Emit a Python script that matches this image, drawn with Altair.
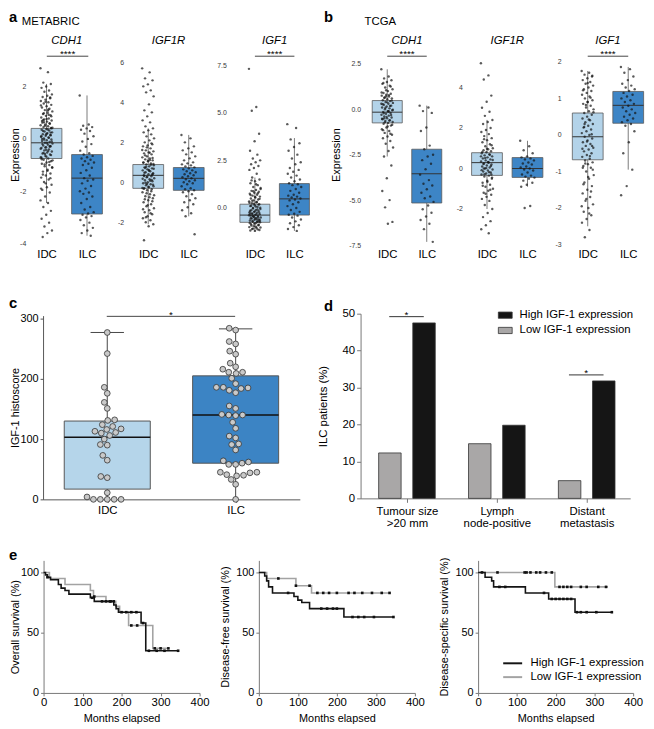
import altair as alt
import pandas as pd

FONT = "Liberation Sans"
W, H = 646, 721
GROUPS = ["IDC", "ILC"]
LIGHT, DARK = "#b3d3e9", "#3d85c6"
HI, LO = "High IGF-1 expression", "Low IGF-1 expression"

# ---------------- a: METABRIC expression ----------------
met_cdh1_idc = [2.7, 2.55, 2.15, 2.1, 2.0, 1.95, 1.85, 1.8, 1.7, 1.65, 1.6, 1.55, 1.5, 1.45, 1.4, 1.35, 1.3,
                1.25, 1.2, 1.15, 1.1, 1.05, 1.0, 0.95, 0.9, 0.88, 0.82, 0.78, 0.74, 0.7, 0.66, 0.62, 0.58,
                0.55, 0.52, 0.48, 0.45, 0.42, 0.38, 0.35, 0.32, 0.28, 0.25, 0.22, 0.18, 0.15, 0.12, 0.08,
                0.05, 0.02, -0.02, -0.05, -0.08, -0.12, -0.15, -0.18, -0.22, -0.25, -0.28, -0.32, -0.35,
                -0.4, -0.44, -0.48, -0.52, -0.56, -0.6, -0.65, -0.7, -0.75, -0.8, -0.85, -0.9, -0.95, -1.0,
                -1.05, -1.1, -1.18, -1.25, -1.32, -1.4, -1.48, -1.55, -1.65, -1.75, -1.85, -1.95, -2.05,
                -2.2, -2.35, -2.45, -2.6, -2.75, -2.9, -3.05, -3.2, -3.35, -3.5, -3.6, -3.75,
                1.58, 1.42, 1.28, 1.12, 0.98, 0.86, 0.76, 0.68, 0.6, 0.5, 0.43, 0.36, 0.3, 0.24, 0.17,
                0.1, 0.04, -0.03, -0.1, -0.16, -0.2, -0.27, -0.33, -0.38, -0.46, -0.54, -0.62, -0.68,
                -0.78, -0.88, -0.98, -1.08, -1.22, -1.36, -1.5, -1.7, -1.9, 0.92, 0.64, 0.4, 0.2, 0.0,
                -0.3, -0.58, -0.82, 1.08, 0.72, 0.14, -0.42, -0.72]
met_cdh1_ilc = [1.66, 0.55, 0.5, 0.45, 0.4, 0.35, 0.3, 0.2, 0.1, 0.0, -0.1, -0.2, -0.3, -0.45, -0.55, -0.6,
                -0.65, -0.7, -0.75, -0.8, -0.85, -0.9, -0.95, -1.0, -1.1, -1.2, -1.3, -1.4, -1.5, -1.55,
                -1.6, -1.7, -1.8, -1.9, -2.0, -2.05, -2.1, -2.2, -2.3, -2.45, -2.6, -2.7, -2.8, -2.85,
                -2.9, -2.95, -3.0, -3.1, -3.2, -3.3, -3.4, -3.5, -3.6, -3.7]
met_igf1r_idc = [5.7, 5.5, 5.2, 5.1, 4.9, 4.8, 4.6, 4.5, 4.3, 3.9, 3.6, 3.5, 3.3, 3.1, 3.0, 2.8, 2.7, 2.6,
                 2.5, 2.4, 2.3, 2.2, 2.1, 2.0, 1.9, 1.85, 1.8, 1.7, 1.6, 1.55, 1.5, 1.45, 1.4, 1.3, 1.25,
                 1.2, 1.15, 1.1, 1.05, 1.0, 0.95, 0.9, 0.85, 0.8, 0.75, 0.7, 0.65, 0.6, 0.55, 0.5, 0.45,
                 0.4, 0.35, 0.3, 0.25, 0.2, 0.15, 0.1, 0.05, 0.0, -0.05, -0.1, -0.15, -0.2, -0.25, -0.3,
                 -0.35, -0.4, -0.5, -0.6, -0.7, -0.8, -0.9, -1.0, -1.1, -1.2, -1.3, -1.4, -1.5, -1.6,
                 -1.7, -1.8, -1.9, -2.0, -2.1, -2.2, -2.9,
                 1.95, 1.75, 1.62, 1.48, 1.35, 1.22, 1.08, 0.98, 0.88, 0.78, 0.68, 0.58, 0.48, 0.38,
                 0.28, 0.18, 0.08, -0.02, -0.12, -0.22, -0.32, -0.45, -0.55, -0.65, -0.75, -0.85, -0.95,
                 -1.15, -1.35, -1.55, -1.75, 0.92, 0.62, 0.32, 0.12, -0.08, -0.28, 1.12, 0.72, 0.42]
met_igf1r_ilc = [2.37, 2.2, 2.0, 1.8, 1.7, 1.6, 1.5, 1.4, 1.3, 1.2, 1.1, 1.0, 0.95, 0.9, 0.85, 0.8, 0.75,
                 0.7, 0.65, 0.6, 0.55, 0.5, 0.45, 0.4, 0.35, 0.3, 0.25, 0.2, 0.15, 0.1, 0.05, 0.0, -0.05,
                 -0.1, -0.2, -0.3, -0.35, -0.4, -0.45, -0.5, -0.6, -0.7, -0.8, -0.9, -1.0, -1.1, -1.25,
                 -1.4, -1.55, -1.7, -2.6]
met_igf1_idc = [7.3, 5.3, 5.1, 3.9, 3.5, 3.0, 2.8, 2.6, 2.5, 2.4, 2.3, 2.2, 2.1, 2.0, 1.8, 1.6, 1.5, 1.4,
                1.3, 1.2, 1.1, 1.0, 0.95, 0.9, 0.85, 0.8, 0.75, 0.7, 0.65, 0.6, 0.55, 0.5, 0.45, 0.4, 0.35,
                0.3, 0.25, 0.2, 0.15, 0.1, 0.05, 0.0, -0.05, -0.1, -0.12, -0.15, -0.2, -0.22, -0.25, -0.3,
                -0.32, -0.35, -0.4, -0.42, -0.45, -0.5, -0.52, -0.55, -0.6, -0.62, -0.65, -0.7, -0.72,
                -0.75, -0.8, -0.85, -0.9, -0.95, -1.0, -1.05, -1.1, -1.15, -1.2,
                -1.18, -1.12, -1.08, -1.02, -0.98, -0.92, -0.88, -0.82, -0.78, -0.74, -0.68, -0.64,
                -0.58, -0.54, -0.48, -0.44, -0.38, -0.34, -0.28, -0.24, -0.18, -0.14, -0.08, -0.02,
                0.02, 0.08, 0.12, 0.18, 0.22, 0.28, 0.32, 0.38, 0.48, 0.58, 0.68, 0.78, 0.88, 1.05,
                1.25, 1.45, -0.7, -0.5, -0.3, -0.6, -0.4]
met_igf1_ilc = [4.4, 4.2, 3.6, 3.4, 3.2, 3.0, 2.8, 2.6, 2.4, 2.3, 2.1, 2.0, 1.9, 1.8, 1.7, 1.6, 1.5, 1.4,
                1.3, 1.25, 1.2, 1.1, 1.0, 0.9, 0.8, 0.7, 0.65, 0.6, 0.55, 0.5, 0.45, 0.4, 0.3, 0.2, 0.1,
                0.0, -0.1, -0.2, -0.3, -0.35, -0.4, -0.5, -0.6, -0.7, -0.8, -0.9, -1.0, -1.1, -1.2]

# ---------------- b: TCGA expression ----------------
tcga_cdh1_idc = [2.2, 1.8, 1.7, 1.6, 1.5, 1.4, 1.3, 1.2, 1.1, 1.0, 0.9, 0.85, 0.8, 0.75, 0.7, 0.65, 0.6,
                 0.55, 0.5, 0.45, 0.4, 0.35, 0.3, 0.25, 0.2, 0.15, 0.1, 0.05, 0.0, -0.05, -0.1, -0.15, -0.2,
                 -0.25, -0.3, -0.35, -0.4, -0.45, -0.5, -0.55, -0.6, -0.65, -0.7, -0.75, -0.8, -0.9, -1.0,
                 -1.1, -1.2, -1.3, -1.4, -1.5, -1.6, -1.75, -1.9, -2.1, -2.3, -2.6, -3.1, -3.8, -4.5,
                 -5.0, -5.4, -6.2, -6.3,
                 1.45, 1.25, 1.05, 0.92, 0.78, 0.62, 0.48, 0.38, 0.28, 0.18, 0.08, -0.02, -0.12, -0.22,
                 -0.32, -0.42, -0.52, -0.62, -0.72, -0.85, -0.95, -1.15, -1.35, 0.7, 0.3, -0.1, -0.5]
tcga_cdh1_ilc = [0.2, 0.1, -0.1, -0.2, -1.0, -1.2, -2.0, -2.2, -2.5, -2.6, -2.8, -3.0, -3.3, -3.6, -3.9,
                 -4.1, -4.2, -4.4, -4.6, -4.8, -4.9, -5.1, -5.3, -5.5, -5.7, -5.9, -6.1, -6.3, -6.6, -7.3]
tcga_igf1r_idc = [5.2, 4.6, 4.4, 3.6, 3.3, 3.0, 2.8, 2.6, 2.4, 2.3, 2.2, 2.0, 1.9, 1.8, 1.7, 1.6, 1.5,
                  1.4, 1.3, 1.2, 1.1, 1.0, 0.95, 0.9, 0.85, 0.8, 0.75, 0.7, 0.65, 0.6, 0.55, 0.5, 0.45,
                  0.4, 0.35, 0.3, 0.25, 0.2, 0.15, 0.1, 0.05, 0.0, -0.05, -0.1, -0.15, -0.2, -0.25, -0.3,
                  -0.35, -0.4, -0.5, -0.6, -0.7, -0.8, -0.9, -1.0, -1.1, -1.2, -1.3, -1.4, -1.5, -1.6,
                  -1.8, -2.0, -2.2, -2.4, -2.6, -2.8, -3.0, -3.2,
                  1.45, 1.15, 0.98, 0.82, 0.68, 0.52, 0.42, 0.32, 0.22, 0.12, 0.02, -0.08, -0.18, -0.28,
                  -0.45, -0.65, -0.85, -1.05, -1.25, 0.6, 0.3, 0.0, -0.3]
tcga_igf1r_ilc = [1.37, 1.1, 0.9, 0.75, 0.6, 0.55, 0.5, 0.45, 0.4, 0.3, 0.25, 0.2, 0.1, 0.05, 0.0, -0.05,
                  -0.1, -0.2, -0.3, -0.35, -0.4, -0.45, -0.5, -0.6, -0.7, -0.8, -0.9, -1.85, -1.95]
tcga_igf1_idc = [1.75, 1.7, 1.65, 1.6, 1.55, 1.5, 1.45, 1.4, 1.35, 1.3, 1.25, 1.2, 1.15, 1.1, 1.05, 1.0,
                 0.95, 0.9, 0.85, 0.8, 0.75, 0.7, 0.65, 0.6, 0.55, 0.5, 0.45, 0.4, 0.35, 0.3, 0.25, 0.2,
                 0.15, 0.1, 0.05, 0.0, -0.05, -0.1, -0.15, -0.2, -0.25, -0.3, -0.35, -0.4, -0.45, -0.5,
                 -0.55, -0.6, -0.65, -0.7, -0.75, -0.8, -0.85, -0.9, -1.0, -1.1, -1.2, -1.3, -1.4, -1.5,
                 -1.6, -1.7, -1.8, -1.9, -2.0, -2.1, -2.2, -2.3, -2.4, -2.6, -2.8,
                 1.62, 1.42, 1.22, 1.02, 0.82, 0.62, 0.42, 0.22, 0.02, -0.18, -0.38, -0.58, -0.78,
                 -0.95, -1.15, -1.35, -1.55, -1.75, -1.95, -2.15, 0.3, -0.3, 0.9, -0.9]
tcga_igf1_ilc = [1.86, 1.8, 1.7, 1.6, 1.5, 1.4, 1.35, 1.3, 1.25, 1.2, 1.15, 1.1, 1.05, 1.0, 0.95, 0.9,
                 0.85, 0.8, 0.75, 0.7, 0.65, 0.6, 0.55, 0.5, 0.45, 0.4, 0.35, 0.3, 0.25, 0.1, -0.2, -0.5,
                 -0.95, -1.4, -1.65]

# box statistics: q1, median, q3, lower whisker, upper whisker  (IDC, ILC)
met_cdh1_stats = [(-0.75, -0.15, 0.40, -2.45, 2.1), (-2.87, -1.5, -0.6, -3.7, 1.66)]
met_igf1r_stats = [(-0.3, 0.35, 0.89, -2.1, 2.7), (-0.4, 0.2, 0.74, -1.7, 2.37)]
met_igf1_stats = [(-0.75, -0.37, 0.2, -1.2, 1.6), (-0.37, 0.48, 1.28, -1.2, 3.67)]
tcga_cdh1_stats = [(-0.75, -0.16, 0.48, -2.6, 2.2), (-5.16, -3.55, -2.2, -7.3, 0.2)]
tcga_igf1r_stats = [(-0.34, 0.29, 0.78, -2.0, 2.4), (-0.44, 0.0, 0.54, -0.9, 1.37)]
tcga_igf1_stats = [(-0.68, -0.05, 0.6, -2.5, 1.75), (0.32, 0.81, 1.19, -0.95, 1.86)]

# ---------------- c: IGF-1 histoscore ----------------
c_idc = [277, 242, 186, 176, 161, 151, 132, 131, 124, 121, 117, 116, 113, 111, 110, 106, 100, 91, 90,
         73, 65, 38, 36, 11, 4, 0, 0, 0, 0, 0]
c_ilc = [284, 281, 262, 258, 246, 241, 226, 220, 216, 211, 211, 209, 201, 192, 186, 186, 185, 184, 181,
         177, 155, 151, 141, 140, 140, 139, 128, 118, 105, 102, 92, 91, 82, 64, 62, 60, 58, 58, 45, 45,
         44, 41, 40, 39, 33, 25, 0]
c_stats = [(17, 103, 130, 0, 277), (60, 140, 205, 0, 283)]

# ---------------- d: clinical features ----------------
d_categories = ["Tumour size >20 mm", "Lymph node-positive", "Distant metastasis"]
d_high = [47.5, 19.8, 31.8]
d_low = [12.3, 14.8, 4.8]

# ---------------- e: survival ----------------
os_high_t = [0, 5, 10, 18, 38, 45, 55, 65, 120, 130, 180, 186, 192, 250, 262, 345]
os_high_s = [100, 98, 96, 94, 90, 87, 85, 82, 79, 76, 73, 70, 67, 58, 35, 35]
os_low_t = [0, 15, 55, 120, 128, 160, 185, 195, 218, 280, 320]
os_low_s = [100, 95, 90, 85, 80, 76, 72, 67, 56, 37, 37]
os_high_cens = [(10, 96), (125, 79), (150, 76), (160, 76), (172, 76), (200, 67), (212, 67), (225, 67),
                (238, 67), (255, 58), (270, 35), (290, 35), (310, 35), (345, 35)]
os_low_cens = [(130, 80), (170, 76), (180, 76), (225, 56), (240, 56), (285, 37), (300, 37), (320, 37)]

dfs_high_t = [0, 15, 20, 25, 35, 90, 100, 110, 130, 218, 345]
dfs_high_s = [100, 97, 93, 88, 83, 80, 77, 75, 70, 63, 63]
dfs_low_t = [0, 20, 95, 135, 335]
dfs_low_s = [100, 95, 89, 83, 83]
dfs_high_cens = [(75, 83), (160, 70), (175, 70), (190, 70), (200, 70), (240, 63), (255, 63), (270, 63),
                 (295, 63), (345, 63)]
dfs_low_cens = [(50, 95), (95, 89), (130, 89), (150, 83), (165, 83), (180, 83), (200, 83), (230, 83),
                (245, 83), (265, 83), (290, 83), (315, 83), (335, 83)]

dss_high_t = [0, 18, 35, 40, 122, 182, 250, 345]
dss_high_s = [100, 96, 93, 88, 83, 78, 67, 67]
dss_low_t = [0, 198, 335]
dss_low_s = [100, 88, 88]
dss_high_cens = [(55, 88), (70, 88), (170, 83), (190, 78), (200, 78), (210, 78), (220, 78), (230, 78),
                 (240, 78), (255, 67), (265, 67), (280, 67), (305, 67), (345, 67)]
dss_low_cens = [(10, 100), (50, 100), (120, 100), (125, 100), (135, 100), (150, 100), (160, 100),
                (175, 100), (190, 100), (210, 88), (220, 88), (230, 88), (240, 88), (265, 88), (280, 88),
                (310, 88), (330, 88)]


# ======================================================================
def neg_fmt(fmt):
    return (f"datum.value < 0 ? '-' + format(-datum.value, '{fmt}') : format(datum.value, '{fmt}')")


def expr_panel(idc, ilc, stats, xr, ydom, yr, yvals, fmt, axis_x, ytitle=None, title_x=None):
    xs = alt.Scale(domain=[-0.5, 1.5], range=xr, nice=False, zero=False)
    ys = alt.Scale(domain=ydom, range=yr, nice=False, zero=False)
    xa = alt.Axis(orient="bottom", offset=237 - H, values=[0, 1],
                  labelExpr="datum.value < 0.5 ? 'IDC' : 'ILC'", domain=False, ticks=False,
                  tickSize=0, labelPadding=2, labelFontSize=11.5, labelColor="black", title=None,
                  grid=False, labelFlush=False, labelOverlap=False)
    ykw = dict(orient="left", offset=-axis_x, values=yvals, labelExpr=neg_fmt(fmt), domain=False,
               ticks=False, tickSize=0, labelPadding=2, labelFontSize=7, labelColor="#3a3a3a",
               grid=False, labelFlush=False, labelOverlap=False)
    if ytitle:
        ykw.update(title=ytitle, titleX=title_x, titleBaseline="middle", titleFontSize=11,
                   titleFontWeight="normal", titleColor="black")
    else:
        ykw.update(title=None)
    ya = alt.Axis(**ykw)

    box = pd.DataFrame({"grp": GROUPS, "g": [0, 1],
                        "q1": [s[0] for s in stats], "med": [s[1] for s in stats],
                        "q3": [s[2] for s in stats], "lo": [s[3] for s in stats],
                        "hi": [s[4] for s in stats]})
    rows = []
    for g, vals in enumerate([idc, ilc]):
        for i, v in enumerate(vals):
            rows.append({"grp": GROUPS[g], "g": g, "v": v, "i": i})
    pts = pd.DataFrame(rows)

    whisk = alt.Chart(box).mark_rule(color="#5a5a5a", strokeWidth=0.8).encode(
        x=alt.X("g:Q", scale=xs, axis=xa), y=alt.Y("lo:Q", scale=ys, axis=ya), y2="hi:Q")
    rect = alt.Chart(box).transform_calculate(x0="datum.g - 0.38", x1="datum.g + 0.38").mark_bar(
        stroke="#5a5a5a", strokeWidth=0.8).encode(
        x=alt.X("x0:Q", scale=xs, axis=xa), x2="x1:Q",
        y=alt.Y("q1:Q", scale=ys, axis=ya), y2="q3:Q",
        color=alt.Color("grp:N", scale=alt.Scale(domain=GROUPS, range=[LIGHT, DARK]), legend=None))
    medl = alt.Chart(box).transform_calculate(x0="datum.g - 0.38", x1="datum.g + 0.38").mark_rule(
        color="#333333", strokeWidth=1).encode(
        x=alt.X("x0:Q", scale=xs, axis=xa), x2="x1:Q", y=alt.Y("med:Q", scale=ys, axis=ya))
    dots = alt.Chart(pts).transform_calculate(
        xj="datum.g + ((datum.i * 0.618034) % 1 - 0.5) * (datum.g == 0 ? 0.3 : 0.36)").mark_circle(
        size=6, color="#141414", opacity=0.7).encode(
        x=alt.X("xj:Q", scale=xs, axis=xa), y=alt.Y("v:Q", scale=ys, axis=ya))
    return alt.layer(whisk, rect, medl, dots)


def swarm(vals, ypu, xpu, d):
    idx = sorted(range(len(vals)), key=lambda k: vals[k])
    placed = []
    off = [0.0] * len(vals)
    for k in idx:
        y = vals[k] * ypu
        sel = 0.0
        for step in range(0, 400):
            found = None
            for sgn in ((1,) if step == 0 else (-1, 1)):
                x = sgn * step * 0.5
                if all((x - px) ** 2 + (y - py) ** 2 >= d * d - 1e-9 for px, py in placed):
                    found = x
                    break
            if found is not None:
                sel = found
                break
        placed.append((sel, y))
        off[k] = sel / xpu
    return off


def txt(s, x, y, size=11.5, weight="normal", style="normal", align="left", baseline="alphabetic"):
    return alt.Chart(pd.DataFrame({"t": [s]})).mark_text(
        fontSize=size, fontWeight=weight, fontStyle=style, align=align, baseline=baseline,
        color="black", font=FONT).encode(x=alt.value(x), y=alt.value(y), text="t:N")


def hline(x1, x2, y, color="#333333", width=1):
    return alt.Chart(pd.DataFrame({"a": [0]})).mark_rule(color=color, strokeWidth=width).encode(
        x=alt.value(x1), x2=alt.value(x2), y=alt.value(y))


layers = []

# ---- panels a & b ----
specs = [
    (met_cdh1_idc, met_cdh1_ilc, met_cdh1_stats, [18.5, 100.5], [-4, 2.8], [234, 53.8], [-4, -2, 0, 2], "d", 20, "Expression", 7.5 - 20),
    (met_igf1r_idc, met_igf1r_ilc, met_igf1r_stats, [121.5, 203.5], [-3, 6.2], [232.75, 46.45], [-2, 0, 2, 4, 6], "d", 119, None, None),
    (met_igf1_idc, met_igf1_ilc, met_igf1_stats, [230, 310], [-1.6, 7.6], [228.9, 51.3], [0, 2.5, 5, 7.5], ".1f", 223, None, None),
    (tcga_cdh1_idc, tcga_cdh1_ilc, tcga_cdh1_stats, [364, 444], [-7.6, 2.6], [237.8, 50.2], [-7.5, -5, -2.5, 0, 2.5], ".1f", 359, "Expression", 333 - 359),
    (tcga_igf1r_idc, tcga_igf1r_ilc, tcga_igf1r_stats, [464.5, 546.5], [-3.3, 5.2], [225.65, 51.4], [-2, 0, 2, 4], "d", 462, None, None),
    (tcga_igf1_idc, tcga_igf1_ilc, tcga_igf1_stats, [566.5, 648.5], [-3, 2], [235, 50], [-3, -2, -1, 0, 1, 2], "d", 562, None, None),
]
for sp in specs:
    layers.append(expr_panel(*sp))

genes = [("CDH1", 59.5), ("IGF1R", 162.5), ("IGF1", 270), ("CDH1", 404), ("IGF1R", 505.5), ("IGF1", 607.5)]
for g, cx in genes:
    layers.append(txt(g, cx, 28.7, size=11.5, style="italic", align="center", baseline="middle"))
for x1, x2 in [(39.3, 81.3), (250, 290), (384, 424), (587, 628)]:
    layers.append(hline(x1, x2, 44.3, color="#444444", width=1))
    layers.append(txt("****", (x1 + x2) / 2, 45.5, size=10, align="center"))

layers.append(txt("a", 1, 9.5, size=15, weight="bold"))
layers.append(txt("METABRIC", 14, 12.7, size=11.5))
layers.append(txt("b", 320, 9.5, size=15, weight="bold"))
layers.append(txt("TCGA", 361, 12.7, size=11.5))

# ---- panel c ----
c_xs = alt.Scale(domain=[-0.5, 1.5], range=[35.5, 295.5], nice=False, zero=False)
c_ys = alt.Scale(domain=[0, 305], range=[493, 306.95], nice=False, zero=False)
c_xa = alt.Axis(orient="bottom", offset=493 - H, values=[0, 1],
                labelExpr="datum.value < 0.5 ? 'IDC' : 'ILC'", domainColor="#555555",
                tickColor="#555555", tickSize=3, labelPadding=2, labelFontSize=11.5, labelColor="black",
                title=None, grid=False, labelFlush=False, labelOverlap=False)
c_ya = alt.Axis(orient="left", offset=-35.5, values=[0, 100, 200, 300], domainColor="#555555",
                tickColor="#555555", tickSize=3, labelPadding=2, labelFontSize=11, labelColor="black",
                title="IGF-1 histoscore", titleX=7.5 - 35.5, titleBaseline="middle", titleFontSize=11,
                titleFontWeight="normal", titleColor="black", grid=False, labelFlush=False)
c_box = pd.DataFrame({"grp": GROUPS, "g": [0, 1],
                      "q1": [s[0] for s in c_stats], "med": [s[1] for s in c_stats],
                      "q3": [s[2] for s in c_stats], "lo": [s[3] for s in c_stats],
                      "hi": [s[4] for s in c_stats]})
c_rows = []
for g, vals in enumerate([c_idc, c_ilc]):
    offs = swarm(vals, 0.61, 130.0, 6.6)
    for v, o in zip(vals, offs):
        c_rows.append({"grp": GROUPS[g], "g": g, "v": v, "o": o})
c_pts = pd.DataFrame(c_rows)

c_whisk = alt.Chart(c_box).mark_rule(color="#444444", strokeWidth=1).encode(
    x=alt.X("g:Q", scale=c_xs, axis=c_xa), y=alt.Y("lo:Q", scale=c_ys, axis=c_ya), y2="hi:Q")
c_cap_hi = alt.Chart(c_box).transform_calculate(x0="datum.g - 0.13", x1="datum.g + 0.13").mark_rule(
    color="#444444", strokeWidth=1).encode(
    x=alt.X("x0:Q", scale=c_xs, axis=c_xa), x2="x1:Q", y=alt.Y("hi:Q", scale=c_ys, axis=c_ya))
c_rect = alt.Chart(c_box).transform_calculate(x0="datum.g - 0.335", x1="datum.g + 0.335").mark_bar(
    stroke="#555555", strokeWidth=1).encode(
    x=alt.X("x0:Q", scale=c_xs, axis=c_xa), x2="x1:Q", y=alt.Y("q1:Q", scale=c_ys, axis=c_ya),
    y2="q3:Q",
    color=alt.Color("grp:N", scale=alt.Scale(domain=GROUPS, range=["#b5d5ea", "#3c84c4"]), legend=None))
c_med = alt.Chart(c_box).transform_calculate(x0="datum.g - 0.335", x1="datum.g + 0.335").mark_rule(
    color="#111111", strokeWidth=1.6).encode(
    x=alt.X("x0:Q", scale=c_xs, axis=c_xa), x2="x1:Q", y=alt.Y("med:Q", scale=c_ys, axis=c_ya))
c_dots = alt.Chart(c_pts).transform_calculate(xp="datum.g + datum.o").mark_point(
    shape="circle", filled=True, fill="#c9c9c9", stroke="#333333", strokeWidth=0.8, size=34,
    opacity=1).encode(
    x=alt.X("xp:Q", scale=c_xs, axis=c_xa), y=alt.Y("v:Q", scale=c_ys, axis=c_ya))
layers.append(alt.layer(c_whisk, c_cap_hi, c_rect, c_med, c_dots))
layers.append(hline(100, 230, 307.7, color="#444444", width=1))
layers.append(txt("*", 165, 309, size=10, align="center"))
layers.append(txt("c", 1, 299, size=15, weight="bold"))

# ---- panel d ----
d_rows = []
for k, cat in enumerate(d_categories):
    d_rows.append({"cat": cat, "k": k, "level": HI, "val": d_high[k]})
    d_rows.append({"cat": cat, "k": k, "level": LO, "val": d_low[k]})
d_df = pd.DataFrame(d_rows)
d_xs = alt.Scale(domain=[-0.516, 2.484], range=[357, 630], nice=False, zero=False)
d_ys = alt.Scale(domain=[0, 50], range=[492, 305], nice=False, zero=False)
d_xa = alt.Axis(orient="bottom", offset=492 - H, values=[0, 1, 2],
                labelExpr="datum.value < 0.5 ? ['Tumour size', '>20 mm'] : (datum.value < 1.5 ? ['Lymph', 'node-positive'] : ['Distant', 'metastasis'])",
                domainColor="#777777", tickColor="#777777", tickSize=4, labelPadding=3,
                labelFontSize=11.5, labelLineHeight=13, labelColor="black", title=None, grid=False,
                labelFlush=False, labelOverlap=False)
d_ya = alt.Axis(orient="left", offset=-357, values=[0, 10, 20, 30, 40, 50], domainColor="#777777",
                tickColor="#777777", tickSize=4, labelPadding=2, labelFontSize=11.5, labelColor="black",
                title="ILC patients (%)", titleX=320 - 357, titleBaseline="middle", titleFontSize=11.5,
                titleFontWeight="normal", titleColor="black", grid=False, labelFlush=False)
d_bars = alt.Chart(d_df).transform_calculate(
    x0=f"datum.k + (datum.level == '{HI}' ? 0.065 : -0.315)", x1="datum.x0 + 0.25").mark_bar(
    stroke="#333333", strokeWidth=0.8).encode(
    x=alt.X("x0:Q", scale=d_xs, axis=d_xa), x2="x1:Q",
    y=alt.Y("val:Q", scale=d_ys, axis=d_ya), y2=alt.datum(0),
    color=alt.Color("level:N", scale=alt.Scale(domain=[HI, LO], range=["#151515", "#a9a7a7"]),
                    legend=alt.Legend(title=None, orient="none", legendX=496, legendY=299,
                                      symbolType="M-1,-0.45H1V0.45H-1Z", symbolSize=196,
                                      symbolStrokeColor="#333333", symbolStrokeWidth=0.8,
                                      labelFontSize=11.5, labelColor="black", labelOffset=7,
                                      rowPadding=2.5, padding=0, labelFont=FONT)))
layers.append(d_bars)
layers.append(hline(386, 421, 308, color="#333333", width=1))
layers.append(txt("*", 403.5, 309, size=10, align="center"))
layers.append(hline(568, 603, 367, color="#333333", width=1))
layers.append(txt("*", 585.5, 368, size=10, align="center"))
layers.append(txt("d", 320, 302, size=15, weight="bold"))


# ---- panel e ----
def km_panel(ht, hs, lt, ls, hc, lc, xr, axis_x, title, title_x, legend):
    xs = alt.Scale(domain=[0, 400], range=xr, nice=False, zero=False)
    ys = alt.Scale(domain=[0, 110], range=[689, 554.8], nice=False, zero=False)
    xa = alt.Axis(orient="bottom", offset=689 - H, values=[0, 100, 200, 300, 400],
                  domainColor="#777777", tickColor="#777777", tickSize=3, labelPadding=1,
                  labelFontSize=11.5, labelColor="black", title="Months elapsed", titleFontSize=11,
                  titleFontWeight="normal", titleColor="black", titleY=25.5, titleBaseline="middle",
                  grid=False, labelFlush=False, labelOverlap=False)
    ya = alt.Axis(orient="left", offset=-axis_x, values=[0, 50, 100], domainColor="#777777",
                  tickColor="#777777", tickSize=3, labelPadding=2, labelFontSize=11,
                  labelColor="black", title=title, titleX=title_x, titleBaseline="middle",
                  titleFontSize=11, titleFontWeight="normal", titleColor="black", grid=False,
                  labelFlush=False)
    ldf = pd.DataFrame({"grp": [LO] * len(lt) + [HI] * len(ht), "t": lt + ht, "s": ls + hs})
    cdf = pd.DataFrame({"t": [c[0] for c in lc + hc], "s": [c[1] for c in lc + hc]})
    if legend:
        leg = alt.Legend(title=None, orient="none", legendX=504, legendY=652,
                         symbolType="M-1.6,0H1.6", symbolSize=144, symbolStrokeWidth=2,
                         labelFontSize=11.5, labelColor="black", labelOffset=11, rowPadding=1,
                         padding=0, labelFont=FONT)
    else:
        leg = None
    lines = alt.Chart(ldf).mark_line(interpolate="step-after", strokeWidth=1.6).encode(
        x=alt.X("t:Q", scale=xs, axis=xa), y=alt.Y("s:Q", scale=ys, axis=ya),
        color=alt.Color("grp:N", scale=alt.Scale(domain=[HI, LO], range=["#141414", "#a3a3a3"]),
                        legend=leg))
    cens = alt.Chart(cdf).mark_square(size=7, color="#111111", opacity=1).encode(
        x=alt.X("t:Q", scale=xs, axis=xa), y=alt.Y("s:Q", scale=ys, axis=ya))
    return alt.layer(lines, cens)


layers.append(km_panel(os_high_t, os_high_s, os_low_t, os_low_s, os_high_cens, os_low_cens,
                       [36, 194], 36, "Overall survival (%)", 7.5 - 36, False))
layers.append(km_panel(dfs_high_t, dfs_high_s, dfs_low_t, dfs_low_s, dfs_high_cens, dfs_low_cens,
                       [254, 412], 254, "Disease-free survival (%)", 220.5 - 254, False))
layers.append(km_panel(dss_high_t, dss_high_s, dss_low_t, dss_low_s, dss_high_cens, dss_low_cens,
                       [476, 633], 476, "Disease-specific survival (%)", 442 - 476, True))
layers.append(txt("e", 1, 554, size=15, weight="bold"))

chart = alt.layer(*layers).resolve_scale(
    x="independent", y="independent", color="independent").resolve_axis(
    x="independent", y="independent").resolve_legend(color="independent").properties(
    width=W, height=H, autosize=alt.AutoSizeParams(type="none"), padding=0).configure(
    font=FONT, background="white").configure_view(stroke=None).configure_axis(
    grid=False, labelFont=FONT, titleFont=FONT)

chart.save("out.html", embed_options={"renderer": "svg", "actions": False})
